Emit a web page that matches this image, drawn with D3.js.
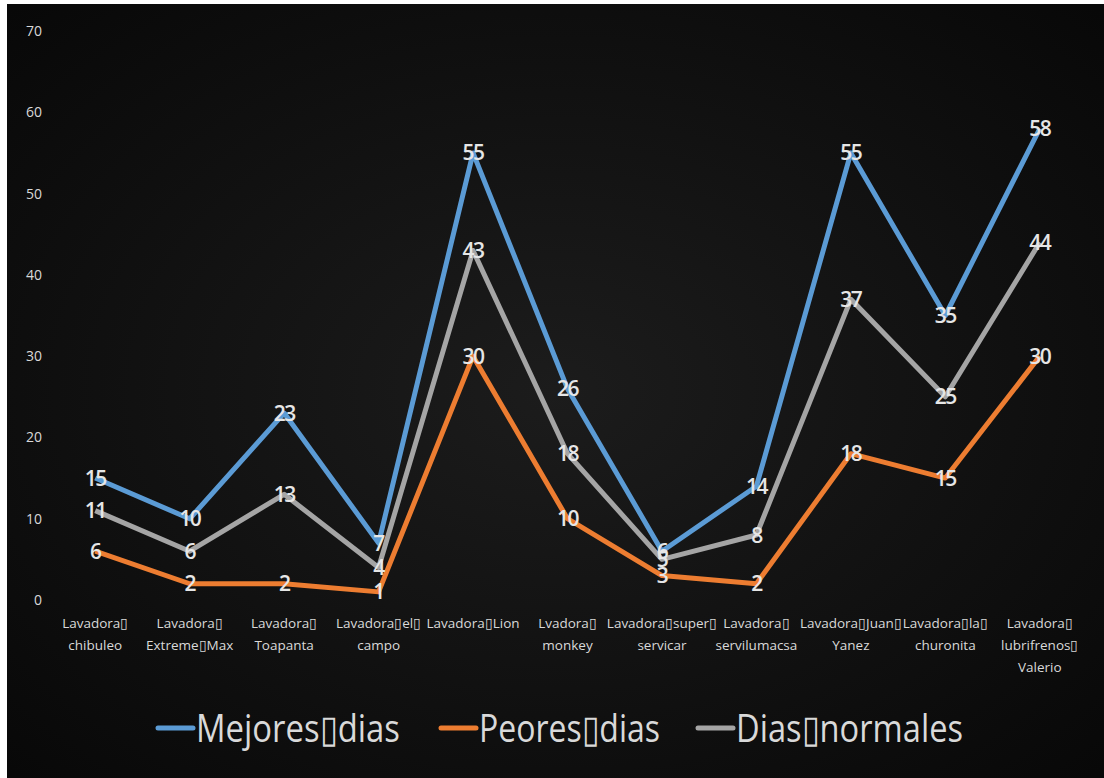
<!DOCTYPE html>
<html>
<head>
<meta charset="utf-8">
<script src="https://cdn.jsdelivr.net/npm/d3@7"></script>
<style>
  html, body { margin: 0; padding: 0; background: #fff; }
  svg { display: block; }
</style>
</head>
<body>
<svg id="chart"></svg>
<script>
// categories, split into the lines they wrap to
var categories = [
    ["Lavadora\u25AF", "chibuleo"],
    ["Lavadora\u25AF", "Extreme\u25AFMax"],
    ["Lavadora\u25AF", "Toapanta"],
    ["Lavadora\u25AFel\u25AF", "campo"],
    ["Lavadora\u25AFLion"],
    ["Lvadora\u25AF", "monkey"],
    ["Lavadora\u25AFsuper\u25AF", "servicar"],
    ["Lavadora\u25AF", "servilumacsa"],
    ["Lavadora\u25AFJuan\u25AF", "Yanez"],
    ["Lavadora\u25AFla\u25AF", "churonita"],
    ["Lavadora\u25AF", "lubrifrenos\u25AF", "Valerio"]
];
var seriesNames = ["Mejores\u25AFdias", "Peores\u25AFdias", "Dias\u25AFnormales"];
var mejores = [15, 10, 23, 7, 55, 26, 6, 14, 55, 35, 58];
var peores = [6, 2, 2, 1, 30, 10, 3, 2, 18, 15, 30];
var normales = [11, 6, 13, 4, 43, 18, 5, 8, 37, 25, 44];
var yTicks = [0, 10, 20, 30, 40, 50, 60, 70];
var colors = ["#5B9BD5", "#ED7D31", "#A5A5A5"];

var width = 1104, height = 778;
var svg = d3.select("#chart").attr("width", width).attr("height", height);

// background with soft radial glow
var defs = svg.append("defs");
var grad = defs.append("radialGradient").attr("id", "bg")
    .attr("cx", "50%").attr("cy", "50%").attr("r", "70%");
grad.append("stop").attr("offset", "0%").attr("stop-color", "#1c1c1c");
grad.append("stop").attr("offset", "100%").attr("stop-color", "#080808");
svg.append("rect").attr("x", 7).attr("y", 4)
    .attr("width", width - 7).attr("height", height - 4)
    .attr("fill", "url(#bg)");

var x = d3.scaleBand()
    .domain(d3.range(categories.length))
    .range([48, 1087]);
var y = d3.scaleLinear().domain([0, 70]).range([600, 31]);

// y axis labels only
var yAxis = svg.append("g")
    .attr("transform", "translate(42,0)")
    .call(d3.axisLeft(y).tickValues(yTicks).tickSize(0).tickPadding(0));
yAxis.select(".domain").remove();
yAxis.selectAll("text")
    .attr("fill", "#d9d9d9")
    .style("font-family", "'Open Sans', sans-serif")
    .style("font-size", "14px");

// category labels
var xLab = svg.append("g").selectAll("text")
    .data(categories)
    .enter().append("text")
    .attr("text-anchor", "middle")
    .attr("fill", "#d9d9d9")
    .style("font-family", "'Open Sans', sans-serif")
    .style("font-size", "13.5px")
    .attr("transform", function (d, i) {
        return "translate(" + (x(i) + x.bandwidth() / 2) + ",628)";
    });
xLab.selectAll("tspan")
    .data(function (d) { return d; })
    .enter().append("tspan")
    .attr("x", 0)
    .attr("dy", function (d, i) { return i ? 22 : 0; })
    .text(function (d) { return d; });

var allSeries = [mejores, peores, normales];
var line = d3.line()
    .x(function (d, i) { return x(i) + x.bandwidth() / 2; })
    .y(function (d) { return y(d); });

svg.append("g").selectAll("path")
    .data(allSeries)
    .enter().append("path")
    .attr("d", line)
    .attr("fill", "none")
    .attr("stroke", function (d, i) { return colors[i]; })
    .attr("stroke-width", 5)
    .attr("stroke-linejoin", "round");

// value labels centred on the points
allSeries.forEach(function (s) {
    svg.append("g").selectAll("text")
        .data(s)
        .enter().append("text")
        .attr("x", function (d, i) { return x(i) + x.bandwidth() / 2; })
        .attr("y", function (d) { return y(d); })
        .attr("dy", "0.36em")
        .attr("text-anchor", "middle")
        .attr("fill", "#e6e6e6")
        .style("font-family", "'Open Sans', sans-serif")
        .style("font-size", "21px")
        .style("font-weight", "600")
        .style("letter-spacing", "-1.5px")
        .text(function (d) { return d; });
});

// legend
var legendX = [158, 441, 698];
var legendW = [204, 181, 227];
var leg = svg.append("g").selectAll("g")
    .data(seriesNames)
    .enter().append("g")
    .attr("transform", function (d, i) { return "translate(" + legendX[i] + ",728)"; });
leg.append("line")
    .attr("x1", 0).attr("x2", 35)
    .attr("stroke", function (d, i) { return colors[i]; })
    .attr("stroke-width", 5)
    .attr("stroke-linecap", "round");
leg.append("text")
    .attr("x", 38)
    .attr("dy", "0.36em")
    .attr("fill", "#d9d9d9")
    .style("font-family", "'Open Sans', sans-serif")
    .style("font-size", "38px")
    .attr("textLength", function (d, i) { return legendW[i]; })
    .attr("lengthAdjust", "spacingAndGlyphs")
    .text(function (d) { return d; });
</script>
</body>
</html>
